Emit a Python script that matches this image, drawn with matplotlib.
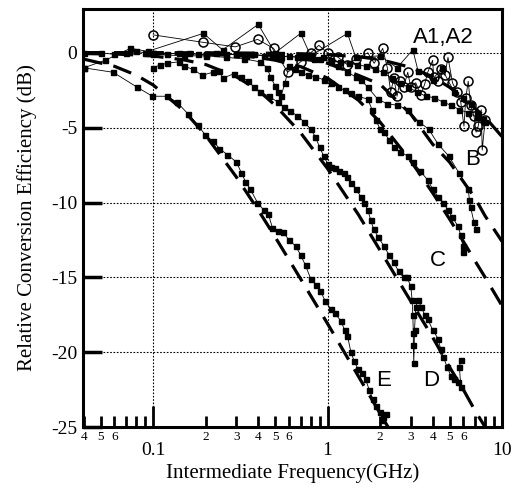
import numpy as np
import matplotlib
matplotlib.use('Agg')
import matplotlib.pyplot as plt
from matplotlib.ticker import FixedLocator, FixedFormatter

plt.rcParams['axes.unicode_minus'] = False

# measured curves (frequency GHz, relative efficiency dB)
e_f = [0.040, 0.059, 0.081, 0.099, 0.12, 0.137, 0.159, 0.18, 0.199, 0.22, 0.24, 0.266, 0.30, 0.32,
       0.338, 0.36, 0.396, 0.43, 0.458, 0.483, 0.52, 0.558, 0.60, 0.655, 0.70, 0.747, 0.80, 0.86,
       0.91, 0.97, 1.04, 1.10, 1.19, 1.25, 1.30, 1.36, 1.42, 1.49, 1.57, 1.65, 1.73, 1.81, 1.90,
       2.0, 2.08, 2.15, 2.05]
e_db = [-1.0, -1.3, -2.3, -2.9, -2.9, -3.3, -4.1, -4.8, -5.5, -5.9, -6.4, -6.8, -7.3, -8.0,
        -8.6, -9.1, -10.0, -10.5, -10.8, -11.7, -11.9, -12.0, -12.5, -12.9, -13.5, -14.2, -15.1, -15.5,
        -15.9, -16.6, -17.1, -17.4, -17.9, -18.5, -18.9, -20.0, -20.6, -21.1, -21.4, -21.8, -22.5, -23.1, -23.6,
        -24.0, -24.3, -24.1, -24.5]

d_f = [0.10, 0.11, 0.12, 0.14, 0.15, 0.17, 0.19, 0.22, 0.24, 0.25, 0.29, 0.32, 0.35, 0.38, 0.41,
       0.46, 0.52, 0.56, 0.61, 0.67, 0.73, 0.80, 0.85, 0.90, 0.95, 1.00, 1.04, 1.10, 1.17, 1.24,
       1.30, 1.36, 1.45, 1.55, 1.62, 1.70, 1.77, 1.84, 1.95, 2.10, 2.25, 2.40, 2.55, 2.73, 2.85,
       3.00, 3.05, 3.08, 3.10, 3.10, 3.12, 3.15, 3.20, 3.30, 3.45, 3.60, 3.75, 4.00, 4.30, 4.45,
       4.60, 4.85, 5.10, 5.30, 5.60, 5.80, 5.70, 5.80]
d_db = [-1.0, -0.8, -0.7, -0.6, -0.9, -1.1, -1.5, -1.3, -1.2, -1.7, -1.4, -1.6, -1.9, -2.3, -2.6,
        -2.9, -3.3, -3.6, -3.9, -4.2, -4.6, -5.1, -5.6, -6.3, -6.9, -7.4, -7.6, -7.7, -7.9, -8.0,
        -8.3, -8.7, -9.1, -9.6, -10.0, -10.5, -11.2, -11.8, -12.3, -12.9, -13.5, -14.0, -14.6, -15.0, -15.0,
        -15.6, -16.5, -17.5, -18.7, -19.5, -20.7, -18.5, -17.0, -16.5, -17.0, -17.5, -17.8, -18.5, -19.1, -19.8,
        -20.3, -21.0, -21.6, -21.8, -22.0, -22.3, -21.0, -20.5]

c_f = [0.10, 0.15, 0.20, 0.26, 0.33, 0.41, 0.45, 0.47, 0.50, 0.52, 0.54, 0.57, 0.60, 0.65, 0.70,
       0.77, 0.85, 0.95, 1.04, 1.15, 1.25, 1.36, 1.50, 1.70, 1.80, 1.89, 2.00, 2.10, 2.25, 2.40,
       2.60, 2.88, 3.10, 3.40, 3.75, 4.00, 4.30, 4.60, 4.90, 5.20, 5.60, 5.80, 5.96, 6.00]
c_db = [-0.1, -0.2, -0.2, -0.3, -0.4, -0.6, -1.0, -1.6, -2.2, -2.6, -2.9, -2.0, -0.9, -1.1, -1.3,
        -1.5, -1.6, -1.8, -2.0, -2.3, -2.5, -2.7, -2.9, -3.1, -3.8, -4.5, -5.1, -5.3, -5.8, -6.3,
        -6.6, -6.9, -7.3, -7.9, -8.5, -9.1, -9.6, -10.0, -10.5, -11.0, -11.6, -12.2, -12.9, -13.3]

b_f = [0.10, 0.20, 0.30, 0.50, 0.70, 0.90, 1.04, 1.15, 1.30, 1.45, 1.55, 1.70, 1.94, 2.20, 2.50,
       2.90, 3.33, 3.80, 4.30, 4.95, 5.65, 6.40, 6.50, 6.60, 6.90, 7.10]
b_db = [0.0, -0.1, -0.1, -0.2, -0.3, -0.4, -0.6, -0.9, -1.3, -1.6, -1.8, -2.3, -3.1, -3.4, -3.5,
        -3.8, -4.6, -5.1, -6.1, -6.9, -8.0, -9.1, -9.8, -10.3, -11.3, -11.8]

a1_f = [0.10, 0.194, 0.296, 0.397, 0.49, 0.59, 0.70, 0.80, 0.89, 1.00, 1.15, 1.30, 1.45, 1.70,
        1.85, 2.07, 2.20, 2.30, 2.40, 2.50, 2.60, 2.73, 2.88, 3.00, 3.20, 3.42, 3.60, 3.75, 4.00,
        4.06, 4.30, 4.45, 4.70, 4.90, 5.20, 5.50, 5.80, 6.05, 6.20, 6.40, 6.60, 6.90, 7.10, 7.30,
        7.60, 7.70, 8.00]
a1_db = [1.2, 0.7, 0.4, 0.9, 0.3, -1.3, -0.6, 0.0, 0.5, 0.0, -0.3, -0.8, -0.4, 0.0,
         -0.7, 0.3, -1.0, -2.6, -1.7, -2.9, -1.9, -2.3, -1.3, -2.3, -2.0, -2.8, -2.1, -1.3, -0.5,
         -1.6, -1.9, -1.1, -1.5, -0.3, -2.0, -2.6, -3.3, -4.9, -3.0, -1.9, -3.5, -4.2, -5.3, -4.9,
         -3.8, -6.5, -4.5]

a2_f = [0.040, 0.053, 0.074, 0.093, 0.194, 0.25, 0.40, 0.50, 0.70, 0.80, 1.30, 1.45, 2.0, 2.5,
        3.08, 3.3, 4.0, 4.5, 5.3, 6.0, 6.6, 7.2, 7.8]
a2_db = [-1.0, -0.5, 0.3, 0.1, 1.3, 0.2, 1.9, 0.0, 1.3, -0.2, 1.3, -0.3, -0.2, -1.0,
         0.2, -1.2, -1.8, -1.0, -2.6, -3.0, -3.4, -4.0, -4.4]

band_f = [0.040, 0.05, 0.06, 0.07, 0.08, 0.09, 0.10, 0.12, 0.14, 0.16, 0.18, 0.20, 0.23, 0.26,
          0.30, 0.34, 0.38, 0.43, 0.48, 0.54, 0.60, 0.67, 0.75, 0.84, 0.94, 1.05, 1.18, 1.32,
          1.48, 1.66, 1.86, 2.08, 2.33, 2.6, 2.9, 3.25, 3.65, 4.1, 4.6, 5.1, 5.7, 6.4, 7.2, 8.0]
band_db = [0.0, 0.0, -0.1, 0.0, 0.1, 0.0, 0.0, -0.1, 0.0, 0.0, -0.1, -0.1, 0.0, -0.1,
           -0.1, -0.2, -0.1, -0.2, -0.2, -0.3, -0.2, -0.3, -0.3, -0.4, -0.3, -0.5, -0.6, -0.7,
           -0.8, -0.9, -1.1, -1.3, -1.7, -2.0, -2.3, -2.6, -2.9, -3.0, -3.3, -3.5, -3.8, -4.0, -4.3, -4.6]

# fitted roll-off curves (dashed)
fit_f = [0.04, 0.06, 0.08, 0.1, 0.15, 0.2, 0.3, 0.4, 0.5, 0.7, 1.0, 1.5, 2.0, 3.0, 4.0, 5.0, 6.0,
         7.0, 8.0, 10.0]
fit_e = [-0.42, -0.9, -1.49, -2.15, -3.87, -5.51, -8.3, -10.5, -12.3, -15.1, -18.1, -21.6, -24.1,
         -27.6, -30.1, -32.0, -33.6, -35.0, -36.1, -38.1]
fit_d = [-0.03, -0.08, -0.14, -0.21, -0.47, -0.78, -1.6, -2.5, -3.5, -5.34, -7.74, -10.8, -13.2,
         -16.6, -19.0, -21.0, -22.5, -23.9, -25.0, -26.9]
fit_c = [0.0, 0.0, -0.01, -0.02, -0.05, -0.08, -0.18, -0.31, -0.49, -0.92, -1.69, -3.16, -4.63,
         -7.23, -9.35, -11.1, -12.6, -13.9, -15.0, -16.9]
fit_b = [0.0, 0.0, 0.0, 0.0, -0.02, -0.03, -0.07, -0.12, -0.18, -0.36, -0.7, -1.5, -2.1,
         -4.1, -6.1, -7.3, -8.6, -9.7, -10.9, -12.6]
fit_a = [0.0, 0.0, 0.0, 0.0, 0.0, 0.0, -0.01, -0.02, -0.03, -0.06, -0.12, -0.26, -0.45,
         -0.97, -1.6, -2.3, -3.0, -3.7, -4.3, -5.6]

labels = ['A1,A2', 'B', 'C', 'D', 'E']
label_f = [4.58, 6.8, 4.29, 3.9, 2.1]
label_db = [1.0, -7.1, -13.9, -21.9, -21.9]

fig = plt.figure(figsize=(5.14, 4.91), dpi=100)
ax = fig.add_axes([0.1615, 0.1303, 0.8152, 0.8514])

dash = (0, (6, 3.5))
for fy in [fit_a, fit_b, fit_c, fit_d, fit_e]:
    ax.plot(fit_f, fy, color='black', lw=2.3, linestyle=dash, zorder=2)

sq = dict(color='black', lw=0.6, marker='s', markersize=3.6, zorder=3)
ax.plot(band_f, band_db, **sq)
ax.plot(e_f, e_db, **sq)
ax.plot(d_f, d_db, **sq)
ax.plot(c_f, c_db, **sq)
ax.plot(b_f, b_db, **sq)
ax.plot(a2_f, a2_db, **sq)
ax.plot(a1_f, a1_db, color='black', lw=0.6, marker='o', markersize=6.5,
        markerfacecolor='none', markeredgewidth=1.1, zorder=4)

for t, xf, yd in zip(labels, label_f, label_db):
    ax.text(xf, yd, t, fontsize=16, family='Liberation Sans', ha='center', va='center', zorder=5)

ax.set_xscale('log')
ax.set_xlim(0.0396, 10)
ax.set_ylim(-25, 2.93)

ax.grid(False)
for yv in [0, -5, -10, -15, -20]:
    ax.axhline(yv, color='black', lw=0.8, linestyle=(0, (1.5, 1.5)), zorder=1)
for xv in [0.1, 1]:
    ax.axvline(xv, color='black', lw=0.8, linestyle=(0, (1.5, 1.5)), zorder=1)

ax.set_yticks([0, -5, -10, -15, -20, -25])
ax.set_yticklabels(['0', '-5', '-10', '-15', '-20', '-25'], family='Liberation Serif', fontsize=14)
ax.tick_params(axis='y', direction='in', length=14, width=2.5, right=False, pad=4)

maj = [0.1, 1, 10]
ax.xaxis.set_major_locator(FixedLocator(maj))
ax.xaxis.set_major_formatter(FixedFormatter(['0.1', '1', '10']))
minor_pos = [0.04, 0.05, 0.06, 0.07, 0.08, 0.09] + [k * 0.1 for k in range(2, 10)] + list(range(2, 10))
minor_lab = ['4', '5', '6', '', '', ''] + ['2', '3', '4', '5', '6', '', '', ''] + ['2', '3', '4', '5', '6', '', '', '']
ax.xaxis.set_minor_locator(FixedLocator(minor_pos))
ax.xaxis.set_minor_formatter(FixedFormatter(minor_lab))
ax.tick_params(axis='x', which='major', direction='in', length=15, width=2, top=False,
               labelsize=14, pad=11)
ax.tick_params(axis='x', which='minor', direction='in', length=8, width=2, top=False,
               labelsize=9.5, pad=3)
for lab in ax.get_xticklabels(which='both'):
    lab.set_family('Liberation Serif')

for s in ax.spines.values():
    s.set_linewidth(2.2)

ax.set_xlabel('Intermediate Frequency(GHz)', family='Liberation Serif', fontsize=15, labelpad=3)
ax.set_ylabel('Relative Conversion Efficiency (dB)', family='Liberation Serif', fontsize=15, labelpad=10)

fig.savefig('out.png', dpi=100)
